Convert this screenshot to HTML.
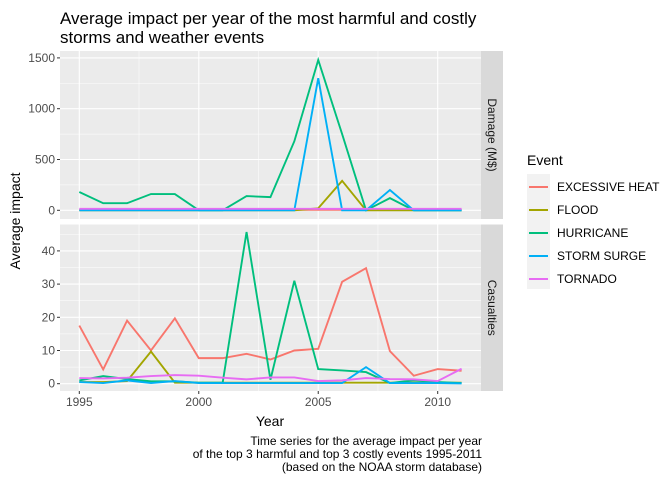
<!DOCTYPE html>
<html><head><meta charset="utf-8"><style>
body{margin:0;background:#fff;}
svg{font-family:"Liberation Sans",Arial,sans-serif;}
</style></head><body>
<svg id="chart" width="672" height="480" viewBox="0 0 672 480" xmlns="http://www.w3.org/2000/svg">
<text x="60" y="24" font-size="17" fill="#000">Average impact per year of the most harmful and costly</text>
<text x="60" y="43" font-size="17" fill="#000">storms and weather events</text>
<g id="panels"></g>
<text transform="translate(20,221) rotate(-90)" text-anchor="middle" font-size="14">Average impact</text>
<text x="270" y="426" text-anchor="middle" font-size="14">Year</text>
<g font-size="12" text-anchor="end" fill="#000">
<text x="482" y="445">Time series for the average impact per year</text>
<text x="482" y="458">of the top 3 harmful and top 3 costly events 1995-2011</text>
<text x="482" y="471">(based on the NOAA storm database)</text>
</g>
<g id="legend">
<text x="527" y="165" font-size="14">Event</text>
<rect x="527" y="174" width="23" height="115" fill="#f2f2f2"/>
</g>
</svg>
<script>
const years=[1995,1996,1997,1998,1999,2000,2001,2002,2003,2004,2005,2006,2007,2008,2009,2010,2011];
const events=["EXCESSIVE HEAT","FLOOD","HURRICANE","STORM SURGE","TORNADO"];
const colors=["#F8766D","#A3A500","#00BF7D","#00B0F6","#E76BF3"];
const damageHeat=[5,5,5,5,5,5,5,5,5,5,5,5,5,5,5,5,5];
const damageFlood=[0,0,0,0,0,0,0,0,0,0,20,290,0,0,0,0,0];
const damageHurricane=[180,70,70,160,160,0,0,140,130,680,1480,750,0,120,0,0,0];
const damageSurge=[0,0,0,0,0,0,0,0,0,0,1300,0,0,200,0,0,0];
const damageTornado=[15,15,15,15,15,15,15,15,15,15,15,15,15,15,15,15,15];
const casHeat=[17.5,4.3,19,10,19.7,7.7,7.7,9,7.3,10,10.5,30.7,34.8,9.8,2.4,4.4,3.9];
const casFlood=[0.5,0.5,0.8,9.7,0.3,0.3,0.3,0.3,0.3,0.3,0.3,0.3,0.3,0.3,0.3,0.3,0.3];
const casHurricane=[1,2.3,1.4,0.7,0.7,0.3,0.3,45.7,1.2,31,4.4,4,3.5,0.2,1,0.5,0.2];
const casSurge=[0.5,0.2,1,0.2,0.8,0.2,0.2,0.2,0.2,0.2,0.2,0.2,5.0,0.2,0.2,0.2,0.1];
const casTornado=[1.7,1.6,1.8,2.3,2.6,2.4,1.8,1.3,1.9,1.9,0.8,1.0,1.7,1.4,1.3,0.8,4.5];
const xTicks=[1995,2000,2005,2010];
const damageTicks=[0,500,1000,1500];
const casTicks=[0,10,20,30,40];

const NS="http://www.w3.org/2000/svg";
const L=60,R=481;
const X=v=>79.3+(v-1995)*(437.7-79.3)/15;
function mk(tag,attrs,parent){const e=document.createElementNS(NS,tag);for(const k in attrs)e.setAttribute(k,attrs[k]);parent.appendChild(e);return e;}
const root=document.getElementById('panels');
function panel(top,bot,y0px,perUnit,ticks,minor,series,label,name){
  const Y=v=>y0px-v*perUnit;
  const g=mk('g',{},root);
  
  
  mk('rect',{x:L,y:top,width:R-L,height:bot-top,fill:'#ebebeb'},g);
  minor.forEach(t=>mk('line',{x1:L,x2:R,y1:Y(t),y2:Y(t),stroke:'#fff','stroke-width':0.5},g));
  [1997.5,2002.5,2007.5].forEach(t=>mk('line',{x1:X(t),x2:X(t),y1:top,y2:bot,stroke:'#fff','stroke-width':0.5},g));
  ticks.forEach(t=>{mk('line',{x1:L,x2:R,y1:Y(t),y2:Y(t),stroke:'#fff','stroke-width':1.1},g);
    mk('line',{x1:L-3,x2:L,y1:Y(t),y2:Y(t),stroke:'#333'},g);
    const tx=mk('text',{x:L-5,y:Y(t)+4,'text-anchor':'end','font-size':12,fill:'#4d4d4d'},g);tx.textContent=t;});
  xTicks.forEach(t=>mk('line',{x1:X(t),x2:X(t),y1:top,y2:bot,stroke:'#fff','stroke-width':1.1},g));
  series.forEach((s,i)=>{
    const p=mk('polyline',{points:s.map((v,j)=>X(years[j])+','+Y(v)).join(' '),fill:'none',stroke:colors[i],'stroke-width':1.9},g);
    
    
  });
  mk('rect',{x:R,y:top,width:22,height:bot-top,fill:'#d9d9d9'},g);
  const st=mk('text',{transform:`translate(${R+7},${(top+bot)/2}) rotate(90)`,'text-anchor':'middle','font-size':12,fill:'#1a1a1a'},g);
  st.textContent=label;
  
  
}
panel(51,219,210.3,50.8/500,damageTicks,[250,750,1250],[damageHeat,damageFlood,damageHurricane,damageSurge,damageTornado],'Damage (M$)','damage-panel');
panel(224.5,391,383.7,3.32,casTicks,[5,15,25,35,45].filter(v=>v<=45),[casHeat,casFlood,casHurricane,casSurge,casTornado],'Casualties','casualties-panel');
const xg=mk('g',{},root);
xTicks.forEach(t=>{mk('line',{x1:X(t),x2:X(t),y1:391,y2:394,stroke:'#333'},xg);
  const tx=mk('text',{x:X(t),y:406,'text-anchor':'middle','font-size':12,fill:'#4d4d4d'},xg);tx.textContent=t;});
const lg=document.getElementById('legend');
events.forEach((e,i)=>{const y=187+i*23;
  const ln=mk('line',{x1:529,x2:548,y1:y,y2:y,stroke:colors[i],'stroke-width':1.9},lg);
  
  
  const t=mk('text',{x:557,y:y+4,'font-size':12},lg);t.textContent=e;
  
  
});
</script>
</body></html>
